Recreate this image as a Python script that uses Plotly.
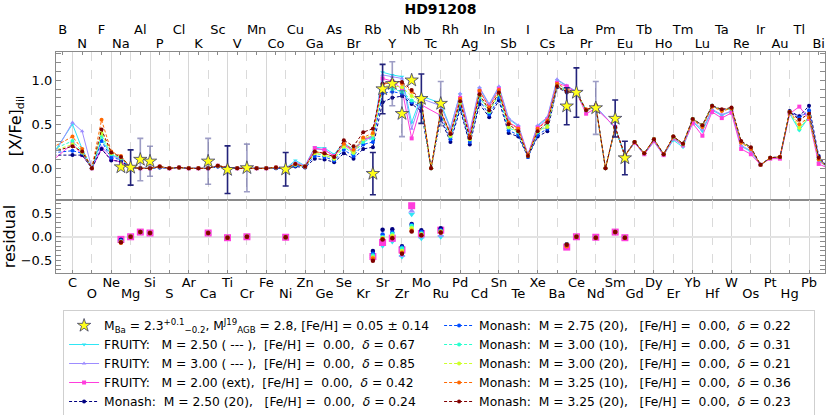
import plotly.graph_objects as go

symbols = ['', 'H', 'He', 'Li', 'Be', 'B', 'C', 'N', 'O', 'F', 'Ne', 'Na', 'Mg', 'Al', 'Si', 'P', 'S', 'Cl',
           'Ar', 'K', 'Ca', 'Sc', 'Ti', 'V', 'Cr', 'Mn', 'Fe', 'Co', 'Ni', 'Cu', 'Zn', 'Ga', 'Ge', 'As', 'Se',
           'Br', 'Kr', 'Rb', 'Sr', 'Y', 'Zr', 'Nb', 'Mo', 'Tc', 'Ru', 'Rh', 'Pd', 'Ag', 'Cd', 'In', 'Sn', 'Sb',
           'Te', 'I', 'Xe', 'Cs', 'Ba', 'La', 'Ce', 'Pr', 'Nd', 'Pm', 'Sm', 'Eu', 'Gd', 'Tb', 'Dy', 'Ho', 'Er',
           'Tm', 'Yb', 'Lu', 'Hf', 'Ta', 'W', 'Re', 'Os', 'Ir', 'Pt', 'Au', 'Hg', 'Tl', 'Pb', 'Bi', 'Po']

# model grid: Li, then C ... Po
model_z = [3] + list(range(6, 85))

# [X/Fe]_dil of the models  (Li..Ni | Cu..Xe | Cs..Po)
fruity_250 = [0.00, 0.50, 0.22, 0.00, 0.33, 0.15, 0.12, 0.01, 0.00, 0.00, 0.02, 0.00, 0.01, 0.00, 0.00, 0.00, 0.03, 0.01, 0.00, 0.00, 0.00, 0.00, 0.01, 0.00,
              0.09, 0.03, 0.24, 0.23, 0.16, 0.29, 0.21, 0.33, 0.37, 1.09, 1.06, 1.04, 0.52, 0.82, None, 0.74, 0.46, 0.84, 0.40, 0.91, 0.72, 0.92, 0.56, 0.48, 0.15, 0.48,
              0.57, 1.00, 0.93, 0.87, 0.66, 0.70, None, 0.46, 0.14, 0.29, 0.16, 0.31, 0.15, 0.32, 0.24, 0.53, 0.42, 0.66, 0.60, 0.65, 0.25, 0.19, 0.04, 0.12, 0.12, 0.62, 0.43, 0.58, 0.09, 0.02]
fruity_300 = [-0.05, 0.52, 0.42, 0.00, 0.24, 0.14, 0.11, 0.01, 0.00, 0.00, 0.02, 0.00, 0.01, 0.00, 0.00, 0.00, 0.03, 0.01, 0.00, 0.00, 0.00, 0.00, 0.01, 0.00,
              0.07, 0.03, 0.22, 0.21, 0.14, 0.28, 0.19, 0.32, 0.35, 1.06, 1.04, 1.02, 0.45, 0.79, None, 0.71, 0.45, 0.85, 0.42, 0.92, 0.73, 0.93, 0.57, 0.49, 0.16, 0.49,
              0.58, 1.01, 0.94, 0.87, 0.66, 0.70, None, 0.46, 0.14, 0.29, 0.16, 0.30, 0.15, 0.34, 0.26, 0.54, 0.44, 0.67, 0.61, 0.65, 0.26, 0.20, 0.04, 0.12, 0.12, 0.63, 0.60, 0.62, 0.08, 0.01]
fruity_200ext = [0.00, 0.28, 0.15, 0.00, 0.22, 0.10, 0.07, 0.01, 0.00, 0.00, 0.02, 0.00, 0.01, 0.00, 0.00, 0.00, 0.03, 0.01, 0.00, 0.00, 0.00, 0.00, 0.01, 0.00,
                 0.04, 0.02, 0.23, 0.21, 0.14, 0.27, 0.19, 0.33, 0.36, 1.02, 0.99, 0.90, 0.34, 0.72, None, 0.60, 0.40, 0.80, 0.38, 0.88, 0.70, 0.90, 0.52, 0.46, 0.15, 0.46,
                 0.55, 0.97, 0.93, 0.86, 0.62, 0.68, None, 0.47, 0.14, 0.29, 0.16, 0.31, 0.15, 0.34, 0.26, 0.51, 0.37, 0.64, 0.57, 0.63, 0.22, 0.16, 0.04, 0.11, 0.11, 0.62, 0.70, 0.56, 0.05, 0.00]
monash_250_20 = [0.15, 0.15, 0.15, 0.00, 0.22, 0.09, 0.08, 0.01, 0.00, 0.00, 0.01, 0.00, 0.01, 0.00, 0.00, 0.00, 0.02, 0.01, 0.00, 0.00, 0.00, 0.00, 0.00, 0.00,
                 0.02, 0.01, 0.11, 0.10, 0.07, 0.17, 0.11, 0.22, 0.24, 0.75, 0.80, 0.82, 0.73, 0.65, 0.00, 0.56, 0.30, 0.67, 0.27, 0.73, 0.58, 0.77, 0.40, 0.36, 0.13, 0.36,
                 0.42, 0.92, 0.86, 0.86, 0.66, 0.70, 0.00, 0.46, 0.14, 0.30, 0.17, 0.33, 0.16, 0.36, 0.28, 0.56, 0.49, 0.71, 0.66, 0.68, 0.30, 0.23, 0.04, 0.12, 0.13, 0.65, 0.59, 0.71, 0.14, 0.00]
monash_275_20 = [0.165, 0.20, 0.17, 0.00, 0.31, 0.12, 0.10, 0.01, 0.00, 0.00, 0.01, 0.00, 0.01, 0.00, 0.00, 0.00, 0.02, 0.01, 0.00, 0.00, 0.00, 0.00, 0.00, 0.00,
                 0.03, 0.02, 0.14, 0.13, 0.09, 0.21, 0.14, 0.27, 0.30, 0.85, 0.87, 0.85, 0.75, 0.69, 0.00, 0.60, 0.33, 0.70, 0.30, 0.77, 0.61, 0.80, 0.43, 0.38, 0.13, 0.38,
                 0.45, 0.93, 0.87, 0.86, 0.66, 0.70, 0.00, 0.46, 0.14, 0.30, 0.17, 0.33, 0.16, 0.36, 0.28, 0.56, 0.49, 0.71, 0.66, 0.68, 0.30, 0.23, 0.04, 0.12, 0.13, 0.64, 0.57, 0.66, 0.12, 0.00]
monash_300_10 = [0.17, 0.31, 0.19, 0.00, 0.37, 0.16, 0.12, 0.01, 0.00, 0.00, 0.02, 0.00, 0.01, 0.00, 0.00, 0.00, 0.03, 0.01, 0.00, 0.00, 0.00, 0.00, 0.01, 0.00,
                 0.04, 0.02, 0.17, 0.15, 0.11, 0.24, 0.17, 0.30, 0.34, 0.91, 0.90, 0.87, 0.77, 0.72, 0.00, 0.63, 0.36, 0.74, 0.33, 0.81, 0.64, 0.84, 0.46, 0.41, 0.14, 0.41,
                 0.49, 0.95, 0.88, 0.86, 0.66, 0.70, 0.00, 0.46, 0.14, 0.30, 0.17, 0.33, 0.16, 0.35, 0.27, 0.56, 0.48, 0.71, 0.66, 0.68, 0.30, 0.23, 0.04, 0.12, 0.13, 0.64, 0.44, 0.59, 0.10, 0.00]
monash_300_20 = [0.165, 0.27, 0.18, 0.00, 0.40, 0.17, 0.12, 0.01, 0.00, 0.00, 0.02, 0.00, 0.01, 0.00, 0.00, 0.00, 0.03, 0.01, 0.00, 0.00, 0.00, 0.00, 0.01, 0.00,
                 0.04, 0.02, 0.17, 0.15, 0.11, 0.25, 0.18, 0.33, 0.38, 0.93, 0.94, 0.92, 0.82, 0.74, 0.00, 0.63, 0.37, 0.75, 0.33, 0.83, 0.65, 0.85, 0.47, 0.42, 0.14, 0.42,
                 0.47, 0.93, 0.87, 0.86, 0.66, 0.70, 0.00, 0.46, 0.14, 0.30, 0.17, 0.33, 0.16, 0.36, 0.28, 0.56, 0.49, 0.71, 0.66, 0.68, 0.30, 0.23, 0.04, 0.12, 0.13, 0.64, 0.46, 0.58, 0.11, 0.00]
monash_325_10 = [0.18, 0.36, 0.22, 0.00, 0.55, 0.19, 0.14, 0.01, 0.00, 0.00, 0.02, 0.00, 0.01, 0.00, 0.00, 0.00, 0.03, 0.01, 0.00, 0.00, 0.00, 0.00, 0.01, 0.00,
                 0.05, 0.02, 0.19, 0.17, 0.13, 0.28, 0.21, 0.35, 0.40, 0.95, 0.98, 0.96, 0.87, 0.76, 0.00, 0.65, 0.40, 0.79, 0.36, 0.88, 0.69, 0.89, 0.52, 0.45, 0.15, 0.45,
                 0.54, 0.96, 0.90, 0.86, 0.67, 0.70, 0.00, 0.46, 0.14, 0.30, 0.17, 0.33, 0.16, 0.36, 0.28, 0.55, 0.47, 0.70, 0.65, 0.68, 0.29, 0.22, 0.04, 0.12, 0.13, 0.64, 0.50, 0.58, 0.10, 0.00]
monash_325_20 = [0.16, 0.25, 0.19, 0.00, 0.44, 0.18, 0.13, 0.01, 0.00, 0.00, 0.02, 0.00, 0.01, 0.00, 0.00, 0.00, 0.03, 0.01, 0.00, 0.00, 0.00, 0.00, 0.01, 0.00,
                 0.05, 0.02, 0.19, 0.17, 0.13, 0.32, 0.25, 0.41, 0.45, 0.96, 0.99, 0.98, 0.89, 0.76, 0.00, 0.65, 0.39, 0.76, 0.34, 0.84, 0.66, 0.86, 0.50, 0.42, 0.14, 0.42,
                 0.52, 0.93, 0.87, 0.86, 0.66, 0.72, 0.00, 0.47, 0.15, 0.30, 0.17, 0.33, 0.16, 0.36, 0.28, 0.56, 0.49, 0.71, 0.67, 0.69, 0.31, 0.24, 0.04, 0.12, 0.13, 0.64, 0.55, 0.62, 0.12, 0.00]

# observed abundances of HD91208
obs_z = [11, 12, 13, 14, 20, 22, 24, 28, 37, 38, 39, 40, 41, 42, 44, 57, 58, 60, 62, 63]
obs_val = [0.015, 0.01, 0.10, 0.08, 0.08, -0.015, 0.005, -0.01, -0.06, 0.90, 0.96, 0.62, 1.00, 0.79, 0.735,
           0.705, 0.86, 0.685, 0.565, 0.117]
err_dark = [None, 0.20, None, None, None, 0.27, None, 0.19, 0.24, 0.28, None, None, None, 0.28, None,
            0.21, 0.28, None, 0.21, 0.19]
err_light = [None, None, 0.24, 0.17, 0.26, None, 0.27, None, None, None, 0.25, 0.26, None, None, 0.25,
             None, None, 0.30, None, None]

# residuals (obs - model) at the observed elements
res_fruity_250 = [-0.11, 0.0, 0.10, 0.08, 0.08, -0.02, 0.0, -0.01, -0.43, -0.19, -0.10, -0.42, 0.48, -0.03, 0.0, -0.22, -0.01, -0.02, 0.10, -0.02]
res_fruity_300 = [-0.10, 0.0, 0.10, 0.08, 0.08, -0.02, 0.0, -0.01, -0.41, -0.16, -0.08, -0.40, 0.55, 0.0, 0.03, -0.23, -0.01, -0.02, 0.10, -0.02]
res_fruity_200ext = [-0.055, 0.0, 0.10, 0.08, 0.08, -0.02, 0.0, -0.01, -0.42, -0.12, -0.03, -0.28, 0.66, 0.07, 0.14, -0.22, 0.0, -0.01, 0.10, -0.02]
res_monash_250_20 = [-0.065, 0.0, 0.10, 0.08, 0.08, -0.02, 0.0, -0.01, -0.30, 0.15, 0.16, -0.20, 0.27, 0.14, 0.18, -0.16, 0.0, -0.02, 0.10, -0.02]
res_monash_275_20 = [-0.085, 0.0, 0.10, 0.08, 0.08, -0.02, 0.0, -0.01, -0.36, 0.05, 0.09, -0.23, 0.25, 0.10, 0.14, -0.17, 0.0, -0.02, 0.10, -0.02]
res_monash_300_10 = [-0.105, 0.0, 0.10, 0.08, 0.08, -0.02, 0.0, -0.01, -0.40, -0.01, 0.06, -0.25, 0.23, 0.07, 0.11, -0.18, 0.0, -0.02, 0.10, -0.02]
res_monash_300_20 = [-0.105, 0.0, 0.10, 0.08, 0.08, -0.02, 0.0, -0.01, -0.44, -0.03, 0.02, -0.30, 0.18, 0.05, 0.11, -0.17, 0.0, -0.02, 0.10, -0.02]
res_monash_325_10 = [-0.125, 0.0, 0.10, 0.08, 0.08, -0.02, 0.0, -0.01, -0.46, -0.05, -0.02, -0.34, 0.13, 0.03, 0.09, -0.20, 0.0, -0.02, 0.10, -0.02]
res_monash_325_20 = [-0.115, 0.0, 0.10, 0.08, 0.08, -0.02, 0.0, -0.01, -0.51, -0.06, -0.03, -0.36, 0.11, 0.03, 0.09, -0.17, 0.0, -0.02, 0.10, -0.02]

sp = '\u00a0'  # keep the aligned spacing of the legend texts


def lab(s):
    return s.replace(' ', sp)


models = [
    # values, residuals, label, delta, colour, dash, symbol, legend rank
    (fruity_250, res_fruity_250, 'FRUITY:   M = 2.50 ( --- ),  [Fe/H] =  0.00,  ', '0.67', '#2fe6f5', 'solid', 'triangle-down', 3),
    (fruity_300, res_fruity_300, 'FRUITY:   M = 3.00 ( --- ),  [Fe/H] =  0.00,  ', '0.85', '#9d8cff', 'solid', 'triangle-up', 5),
    (fruity_200ext, res_fruity_200ext, 'FRUITY:   M = 2.00 (ext),  [Fe/H] =  0.00,  ', '0.42', '#ff3ddc', 'solid', 'square', 7),
    (monash_250_20, res_monash_250_20, 'Monash:  M = 2.50 (20),   [Fe/H] =  0.00,  ', '0.24', '#000080', '3px,2px', 'circle', 9),
    (monash_275_20, res_monash_275_20, 'Monash:  M = 2.75 (20),   [Fe/H] =  0.00,  ', '0.22', '#004dff', '3px,2px', 'circle', 2),
    (monash_300_10, res_monash_300_10, 'Monash:  M = 3.00 (10),   [Fe/H] =  0.00,  ', '0.31', '#29ffce', '3px,2px', 'circle', 4),
    (monash_300_20, res_monash_300_20, 'Monash:  M = 3.00 (20),   [Fe/H] =  0.00,  ', '0.21', '#ceff29', '3px,2px', 'circle', 6),
    (monash_325_10, res_monash_325_10, 'Monash:  M = 3.25 (10),   [Fe/H] =  0.00,  ', '0.36', '#ff6800', '3px,2px', 'circle', 8),
    (monash_325_20, res_monash_325_20, 'Monash:  M = 3.25 (20),   [Fe/H] =  0.00,  ', '0.23', '#800000', '3px,2px', 'circle', 10),
]

fig = go.Figure()

for vals, res, label, delta, col, dash, sym, rank in models:
    big = 7 if sym == 'square' else (6 if sym != 'circle' else 4.5)
    fig.add_trace(go.Scatter(x=model_z, y=vals, mode='lines+markers',
                             name=lab(label) + '<i>δ</i>' + lab(' = ' + delta), legendrank=rank,
                             connectgaps=True, line=dict(color=col, width=1, dash=dash),
                             marker=dict(color=col, size=4, symbol=sym), xaxis='x', yaxis='y'))
    fig.add_trace(go.Scatter(x=obs_z, y=res, mode='markers', showlegend=False,
                             marker=dict(color=col, size=big, symbol=sym), xaxis='x2', yaxis='y2'))

# observations
fig.add_trace(go.Scatter(x=obs_z, y=obs_val, mode='markers', showlegend=False, xaxis='x', yaxis='y',
                         marker=dict(opacity=0, size=2),
                         error_y=dict(type='data', array=err_light, color='rgba(60,60,140,0.5)',
                                      thickness=1.6, width=3)))
fig.add_trace(go.Scatter(x=obs_z, y=obs_val, mode='markers', legendrank=1, xaxis='x', yaxis='y',
                         name='M<sub>Ba</sub> = 2.3<sup>+0.1</sup><sub>−0.2</sub>, M<sup>J19</sup><sub>AGB</sub> = 2.8, [Fe/H] = 0.05 ± 0.14',
                         marker=dict(symbol='star', size=10, color='#ffff1a', line=dict(color='#3a3a6a', width=0.8)),
                         error_y=dict(type='data', array=err_dark, color='#23237a', thickness=1.6, width=3)))

# empty traces so that the label-only overlay axes get drawn
for xa, ya in [('x3', 'y'), ('x5', 'y'), ('x4', 'y2')]:
    fig.add_trace(go.Scatter(x=[None], y=[None], xaxis=xa, yaxis=ya, showlegend=False, hoverinfo='skip'))

xr = [4.3, 83.65]
solid_z = list(range(6, 83, 4))
dash_z = list(range(8, 81, 4))
top_hi = list(range(5, 82, 4))
top_lo = list(range(7, 84, 4))
frame = '#8a8a8a'
grid = dict(showgrid=True, gridcolor='#d6d6d6', gridwidth=1,
            minor=dict(tickmode='array', tickvals=dash_z, showgrid=True, griddash='dash',
                       gridcolor='#dadada', gridwidth=1, ticks=''))
label_axis = dict(range=xr, tickmode='array', ticks='inside', ticklen=3, tickcolor=frame,
                  showgrid=False, zeroline=False, showline=False, tickfont=dict(size=13),
                  ticklabeloverflow='allow')

fig.update_layout(
    width=830, height=415,
    margin=dict(l=48, r=4, t=52, b=142),
    paper_bgcolor='white', plot_bgcolor='white',
    font=dict(family='DejaVu Sans', size=13, color='black'),
    title=dict(text='<b>HD91208</b>', x=0.5, xref='paper', y=0.978, yanchor='middle',
               font=dict(size=14)),
    showlegend=True,
    legend=dict(orientation='h', xref='container', x=0.076, xanchor='left',
                yref='container', y=0.253, yanchor='top',
                bordercolor='#cfcfcf', borderwidth=1, font=dict(size=12.3),
                entrywidth=330, entrywidthmode='pixels', tracegroupgap=0),
    xaxis=dict(domain=[0, 1], anchor='y', range=xr, tickmode='array', tickvals=solid_z,
               showticklabels=False, ticks='', showline=True, mirror=True, linecolor=frame,
               linewidth=1.2, zeroline=False, **grid),
    xaxis3=dict(overlaying='x', anchor='y', side='top', tickvals=top_lo,
                ticktext=[symbols[z] for z in top_lo], **label_axis),
    xaxis5=dict(overlaying='x', anchor='y', side='top', tickvals=top_hi,
                ticktext=[symbols[z] for z in top_hi], ticklabelstandoff=14, **label_axis),
    yaxis=dict(domain=[0.33, 1], anchor='x', range=[-0.36, 1.32], tickmode='array',
               tickvals=[0, 0.5, 1.0], tickformat='.1f', ticks='inside', ticklen=5, tickcolor=frame,
               minor=dict(dtick=0.1, ticks='inside', ticklen=3, tickcolor=frame),
               showline=True, mirror='allticks', linecolor=frame, linewidth=1.2,
               showgrid=False, zeroline=False,
               title=dict(text='[X/Fe]<sub>dil</sub>', standoff=6)),
    xaxis2=dict(domain=[0, 1], anchor='y2', range=xr, tickmode='array', tickvals=solid_z,
                ticktext=[symbols[z] for z in solid_z], ticks='inside', ticklen=3, tickcolor=frame,
                showline=True, mirror=True, linecolor=frame, linewidth=1.2, zeroline=False,
                tickfont=dict(size=13), ticklabeloverflow='allow', ticklabelstandoff=-3, **grid),
    xaxis4=dict(overlaying='x2', anchor='y2', side='bottom', tickvals=dash_z,
                ticktext=[symbols[z] for z in dash_z], ticklabelstandoff=11, **label_axis),
    yaxis2=dict(domain=[0, 0.33], anchor='x2', range=[-0.77, 0.78], tickmode='array',
                tickvals=[-0.5, 0, 0.5], tickformat='.1f', ticks='inside', ticklen=5, tickcolor=frame,
                minor=dict(dtick=0.1, ticks='inside', ticklen=3, tickcolor=frame),
                showline=True, mirror='allticks', linecolor=frame, linewidth=1.2,
                showgrid=False, zeroline=True, zerolinecolor='#e3e3e3', zerolinewidth=1.5,
                title=dict(text='residual', standoff=6)),
)

# page has no body margin, so the 830x415 figure fills the window exactly
fig.write_html('out.html', config={'displayModeBar': False},
               post_script="document.body.style.margin='0px';")
